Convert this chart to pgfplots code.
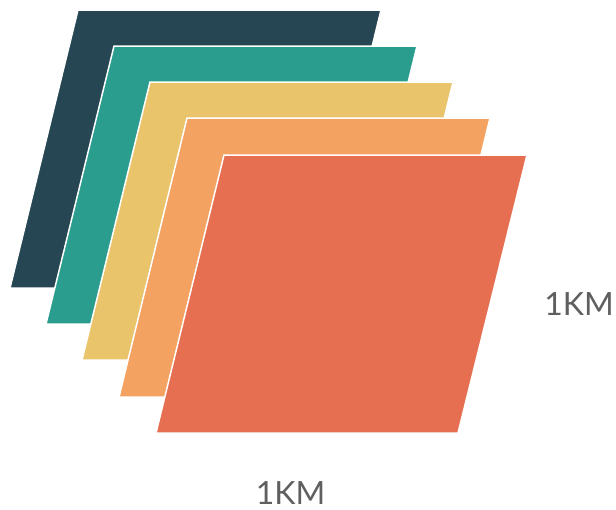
\documentclass[border=0pt]{standalone}
\usepackage{pgfplots}
\pgfplotsset{compat=1.18}
\usepackage{fontspec}
\setmainfont{Lato}
\definecolor{c1}{HTML}{264653}
\definecolor{c2}{HTML}{2A9D8F}
\definecolor{c3}{HTML}{E9C46A}
\definecolor{c4}{HTML}{F4A261}
\definecolor{c5}{HTML}{E76F51}
\definecolor{lbl}{HTML}{5F5F5F}
\begin{document}
\begin{tikzpicture}
\begin{axis}[
  scale only axis, width=616pt, height=509pt,
  xmin=0, xmax=616, ymin=0, ymax=509, y dir=reverse,
  hide axis, clip=false,
]
\addplot[fill=c1, draw=white, line width=1.5pt] coordinates {(78,10) (381,10) (313,288) (10,288)} -- cycle;
\addplot[fill=c2, draw=white, line width=1.5pt] coordinates {(114,46) (417,46) (349,324) (46,324)} -- cycle;
\addplot[fill=c3, draw=white, line width=1.5pt] coordinates {(150,82) (453,82) (385,360) (82,360)} -- cycle;
\addplot[fill=c4, draw=white, line width=1.5pt] coordinates {(187,118) (490,118) (422,397) (119,397)} -- cycle;
\addplot[fill=c5, draw=white, line width=1.5pt] coordinates {(224,155) (527,155) (458,433) (156,433)} -- cycle;
\node[font=\fontsize{32}{38}\selectfont, text=lbl, inner sep=0pt] at (axis cs:290.5,493) {1KM};
\node[font=\fontsize{32}{38}\selectfont, text=lbl, inner sep=0pt] at (axis cs:579,304.5) {1KM};
\end{axis}
\pgfresetboundingbox
\useasboundingbox (current axis.south west) rectangle (current axis.north east);
\end{tikzpicture}
\end{document}
